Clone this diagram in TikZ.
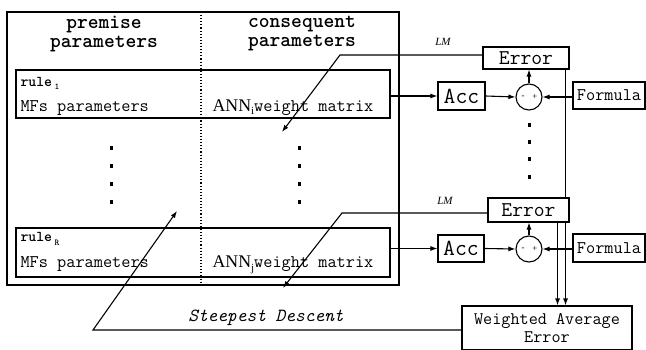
\documentclass[tikz,border=0pt]{standalone}
\usepackage{fontspec}
\setmainfont{Liberation Serif}
\usetikzlibrary{arrows.meta}
\begin{document}
\begin{tikzpicture}[x=1pt,y=-1pt, line width=1.1pt,
  box/.style={draw, rectangle, inner sep=0pt, fill=white},
  arr/.style={-{Latex[length=7pt,width=5pt]}},
  lbl/.style={font=\ttfamily\fontsize{17.8}{18}\selectfont, inner sep=0pt},
  big/.style={font=\ttfamily\fontsize{21}{21}\selectfont, inner sep=0pt},
  head/.style={font=\ttfamily\bfseries\fontsize{20.5}{19}\selectfont, inner sep=0pt, align=center},
  lm/.style={font=\itshape\fontsize{11}{11}\selectfont, inner sep=0pt},
  dotm/.style={fill, minimum width=3pt, minimum height=4pt, inner sep=0pt},
  sum/.style={draw, circle, minimum size=26pt, inner sep=0pt}]
\useasboundingbox (0,0) rectangle (646,350);

% left block
\node[box, minimum width=392pt, minimum height=273pt] (outer) at (203,148.5) {};
\draw[dotted, line width=1.1pt] (201,12) -- (201,285);
\node[head] (hp) at (104,34) {premise\\parameters};
\node[head] (hc) at (302,34) {consequent\\parameters};

\node[draw, rectangle, inner sep=0pt, minimum width=374pt, minimum height=48pt] (rule1) at (203,94) {};
\node[draw, rectangle, inner sep=0pt, minimum width=374pt, minimum height=49pt] (ruleR) at (203,252.5) {};

\node[anchor=base west, inner sep=0pt, font=\ttfamily\bfseries\fontsize{15}{15}\selectfont] (r1t) at (20,87) {rule\,\raisebox{-3pt}{\fontsize{9}{9}\selectfont 1}};
\node[lbl, anchor=base west] (r1m) at (20,112) {MFs parameters};
\node[lbl, anchor=base west] (r1a) at (212,112) {{\rmfamily ANN\raisebox{-3pt}{\fontsize{11}{11}\selectfont i}}weight matrix};

\node[anchor=base west, inner sep=0pt, font=\ttfamily\bfseries\fontsize{15}{15}\selectfont] (rRt) at (20,242) {rule\,\raisebox{-3pt}{\fontsize{9}{9}\selectfont R}};
\node[lbl, anchor=base west] (rRm) at (20,268) {MFs parameters};
\node[lbl, anchor=base west] (rRa) at (212,268) {{\rmfamily ANN\raisebox{-3pt}{\fontsize{11}{11}\selectfont j}}weight matrix};

\foreach \yy in {148,166,184,202} {
  \node[dotm] at (111,\yy) {};
  \node[dotm] at (299,\yy) {};
}
\foreach \yy in {125,142,159,177} {
  \node[dotm] at (529,\yy) {};
}

% right side, stage 1
\node[box, big, minimum width=86pt, minimum height=22pt] (err1) at (526,58) {Error};
\node[box, font=\ttfamily\fontsize{23}{23}\selectfont, minimum width=47pt, minimum height=28pt] (acc1) at (461.5,96) {Acc};
\node[sum] (sum1) at (529,97) {};
\node[box, lbl, minimum width=72pt, minimum height=27pt] (form1) at (609,95.5) {Formula};

% stage R
\node[box, big, minimum width=81pt, minimum height=24pt] (err2) at (528.5,210) {Error};
\node[box, font=\ttfamily\fontsize{23}{23}\selectfont, minimum width=46pt, minimum height=27pt] (acc2) at (461,248.5) {Acc};
\node[sum] (sum2) at (529,249) {};
\node[box, lbl, minimum width=72pt, minimum height=28pt] (form2) at (609,248) {Formula};

\node[box, minimum width=170pt, minimum height=44pt, align=center, font=\ttfamily\fontsize{17.7}{18}\selectfont] (wae) at (547,328) {Weighted Average\\Error};

\foreach \s in {sum1,sum2} {
  \node[font=\fontsize{9}{9}\selectfont, inner sep=0pt] at ([xshift=-6pt]\s.center) {-};
  \node[font=\fontsize{9}{9}\selectfont, inner sep=0pt] at ([xshift=6pt]\s.center) {+};
}

% connectors
\draw[arr] (rule1.east |- acc1.west) -- (acc1.west);
\draw[arr] (acc1.east) -- (sum1.west);
\draw[arr] (form1.west |- sum1.east) -- (sum1.east);
\draw[arr] (sum1.north) -- (sum1.north |- err1.south);

\draw[arr] (ruleR.east |- acc2.west) -- (acc2.west);
\draw[arr] (acc2.east) -- (sum2.west);
\draw[arr] (form2.west |- sum2.east) -- (sum2.east);
\draw[arr] (sum2.north) -- (sum2.north |- err2.south);

\coordinate (lm1k) at (340,55);
\coordinate (lm1e) at (282,132);
\coordinate (lm2k) at (342,213);
\coordinate (lm2e) at (283,288);
\draw[arr] ([yshift=3pt]err1.west) -- (lm1k) -- (lm1e);
\draw[arr] ([yshift=-3pt]err2.west) -- (lm2k) -- (lm2e);
\node[lm] at (443,42) {LM};
\node[lm] at (445,201) {LM};

\draw ([xshift=-4pt]err1.south east) -- ([xshift=-4pt]err1.south east |- err2.north);
\draw[arr] ([xshift=-4pt]err2.south east) -- ([xshift=-4pt]err2.south east |- wae.north);
\draw[arr] ([xshift=-12pt]err2.south east) -- ([xshift=-12pt]err2.south east |- wae.north);

\coordinate (sdk) at (93,330);
\coordinate (sde) at (177,211);
\draw[arr] (wae.west |- sdk) -- (sdk) -- (sde);
\node[inner sep=0pt, font=\ttfamily\itshape\fontsize{18.5}{19}\selectfont] at (266,318) {Steepest Descent};
\end{tikzpicture}
\end{document}
